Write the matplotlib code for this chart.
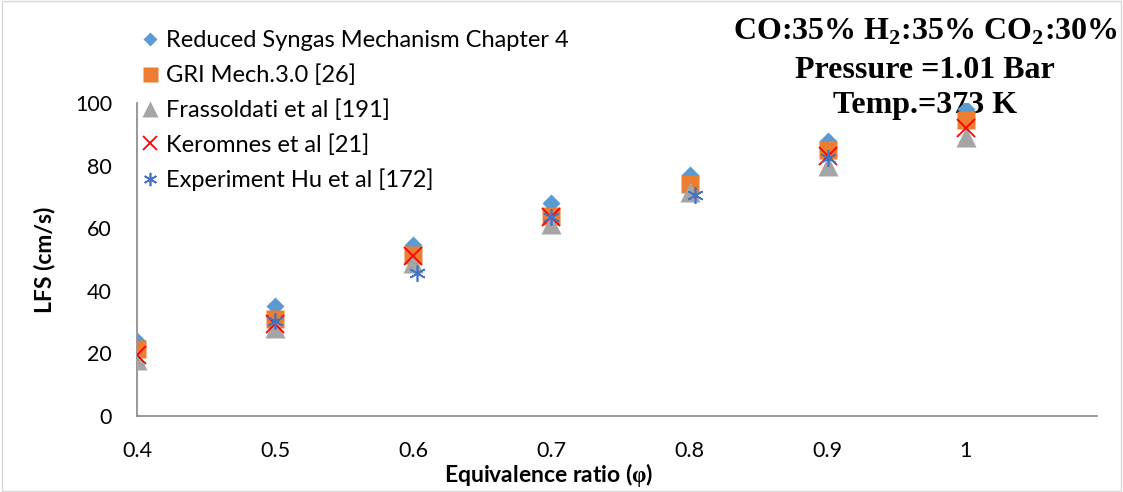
#!/usr/bin/python
# -*- coding: utf-8 -*-
# laminar flame speed of CO/H2/CO2 syngas vs equivalence ratio

import numpy as np
import matplotlib as mpl
mpl.use('Agg')
from matplotlib import pyplot as plt
from matplotlib.patches import Rectangle

##########################################################################################
# data

phi = [0.4, 0.5, 0.6, 0.7, 0.8, 0.9, 1.0]

lfsReduced = [24.0, 35.0, 54.5, 68.0, 77.0, 88.0, 98.0]
lfsGRI = [21.5, 31.0, 51.5, 64.0, 74.0, 85.0, 94.5]
lfsFrassoldati = [18.0, 28.0, 49.0, 61.5, 71.5, 80.0, 89.0]
lfsKeromnes = [19.5, 29.5, 51.0, 63.5, np.nan, 83.0, 92.0]

phiExp = [0.5, 0.603, 0.7, 0.804, 0.9]
lfsExp = [30.5, 45.7, 63.5, 70.5, 82.5]

labels = ['Reduced Syngas Mechanism Chapter 4',
          'GRI Mech.3.0 [26]',
          'Frassoldati et al [191]',
          'Keromnes et al [21]',
          'Experiment Hu et al [172]']

xTicks = [0.4, 0.5, 0.6, 0.7, 0.8, 0.9, 1.0]
xTickLabels = ['0.4', '0.5', '0.6', '0.7', '0.8', '0.9', '1']
yTicks = [0, 20, 40, 60, 80, 100]

titleLines = [r'CO:35% H$_\mathrm{2}$:35% CO$_\mathrm{2}$:30%',
              'Pressure =1.01 Bar',
              'Temp.=373 K']

pColors = {'blue': '#5B9BD5',
           'orange': '#ED7D31',
           'gray': '#A5A5A5',
           'red': '#FF0000',
           'darkblue': '#4472C4',
           'axis': '#868686'}

##########################################################################################

def Plot(outname):

    mpl.rc('font', **{'family': ['Lato', 'DejaVu Sans'], 'size': 16})
    mpl.rcParams['mathtext.fontset'] = 'custom'
    mpl.rcParams['mathtext.rm'] = 'Liberation Serif:bold'

    f = plt.figure(figsize = (11.23, 4.92), dpi = 100)
    ax1 = f.add_axes([0.122, 0.1545, 0.855, 0.636])
    ax1.patch.set_alpha(0.0) # let the condition text sit below the markers

    # chart area border
    f.patches.append(Rectangle((0.002, 0.003), 0.996, 0.994,
                               transform = f.transFigure,
                               facecolor = 'none', edgecolor = '#D9D9D9',
                               lw = 1.0))

    for side in ['top', 'right']:
        ax1.spines[side].set_visible(False)
    for side in ['left', 'bottom']:
        ax1.spines[side].set_color(pColors['axis'])
        ax1.spines[side].set_linewidth(1.2)

    ######################################################################################
    # plotting
    ax1.plot(phi, lfsReduced, ls = 'none', marker = 'D', ms = 8.7,
             color = pColors['blue'], mec = 'none', label = labels[0], zorder = 3)
    ax1.plot(phi, lfsGRI, ls = 'none', marker = 's', ms = 13.5,
             color = pColors['orange'], mec = 'none', label = labels[1], zorder = 4)
    ax1.plot(phi, lfsFrassoldati, ls = 'none', marker = '^', ms = 14.0,
             color = pColors['gray'], mec = 'none', label = labels[2], zorder = 5)
    ax1.plot(phi, lfsKeromnes, ls = 'none', marker = 'x', ms = 12.5, mew = 1.3,
             color = pColors['red'], label = labels[3], zorder = 6)
    ax1.plot(phiExp, lfsExp, ls = 'none', marker = (6, 2, 0), ms = 12.0, mew = 1.2,
             color = pColors['darkblue'], label = labels[4], zorder = 7)

    ######################################################################################
    # axes
    ax1.set_xlim(0.4, 1.095)
    ax1.set_ylim(0.0, 100.0)
    ax1.set_xticks(xTicks)
    ax1.set_xticklabels(xTickLabels)
    ax1.set_yticks(yTicks)
    ax1.tick_params('both', length = 0, labelsize = 15.5, colors = '#000000')
    ax1.tick_params(axis = 'x', pad = 18.0)
    ax1.tick_params(axis = 'y', pad = 18.0)

    ax1.set_xlabel(r'Equivalence ratio ($\mathrm{\varphi}$)', fontsize = 16.5,
                   fontweight = 'bold', x = 0.429)
    ax1.xaxis.labelpad = 0.0
    ax1.set_ylabel('LFS (cm/s)', fontsize = 16.5, fontweight = 'bold')
    ax1.yaxis.labelpad = 14.0

    ######################################################################################
    # legend
    leg = f.legend(loc = 'upper left', bbox_to_anchor = (0.116, 0.958),
                   frameon = False, fontsize = 17, handlelength = 0.9,
                   handletextpad = 0.2, labelspacing = 0.56, borderaxespad = 0.0,
                   numpoints = 1, markerscale = 0.8)

    ######################################################################################
    # annotations (drawn before the axes so markers stay on top)
    yPos = [1 - 32 / 492, 1 - 70 / 492, 1 - 106 / 492]
    for line, y in zip(titleLines, yPos):
        f.text(0.824, y, line, ha = 'center', va = 'center', fontsize = 23,
               fontweight = 'bold', family = 'Liberation Serif', zorder = -1)

    f.savefig(outname, dpi = 100, facecolor = 'white')
    plt.close()

if __name__ == '__main__':
    Plot('out.png')
